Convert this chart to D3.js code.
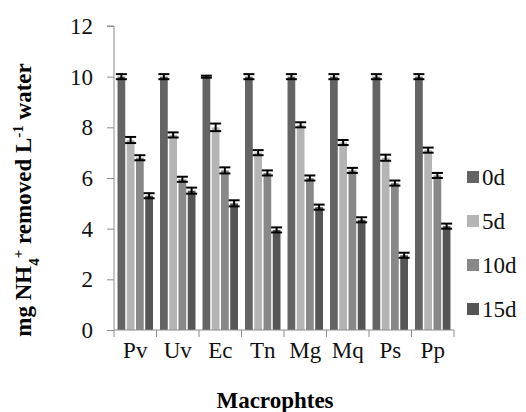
<!DOCTYPE html>
<meta charset="utf-8">
<style>
  body { margin: 0; background: #fff; }
  text { font-family: "Liberation Serif", "Times New Roman", serif; }
</style>
<body>
<script src="https://cdn.jsdelivr.net/npm/d3@7"></script>
<script>

// categories and the four sampling days
var macrophytes = ["Pv", "Uv", "Ec", "Tn", "Mg", "Mq", "Ps", "Pp"];
var days = ["0d", "5d", "10d", "15d"];

// mg NH4+ removed per litre, one array per day
var removed0d  = [10.0, 10.0, 10.0, 10.0, 10.0, 10.0, 10.0, 10.0];
var removed5d  = [7.5, 7.7, 8.0, 7.0, 8.1, 7.4, 6.8, 7.1];
var removed10d = [6.8, 5.95, 6.3, 6.2, 6.0, 6.3, 5.8, 6.1];
var removed15d = [5.3, 5.5, 5.0, 3.95, 4.85, 4.35, 2.95, 4.1];

// error bars (+/-)
var err0d  = [0.1, 0.1, 0.04, 0.1, 0.1, 0.1, 0.1, 0.1];
var err5d  = [0.12, 0.1, 0.15, 0.1, 0.1, 0.1, 0.12, 0.1];
var err10d = [0.1, 0.1, 0.12, 0.1, 0.1, 0.1, 0.1, 0.1];
var err15d = [0.1, 0.12, 0.12, 0.1, 0.1, 0.1, 0.1, 0.1];

var yTicks = [0, 2, 4, 6, 8, 10, 12];

var values = [removed0d, removed5d, removed10d, removed15d];
var errors = [err0d, err5d, err10d, err15d];
var colors = ["#646464", "#b4b4b4", "#888888", "#555555"];

var W = 526, H = 412;
var plotLeft = 114, plotRight = 454, plotTop = 26, plotBottom = 330;

var svg = d3.select("body").append("svg")
    .attr("width", W)
    .attr("height", H);

var x0 = d3.scaleBand()
    .domain(macrophytes)
    .range([plotLeft, plotRight])
    .paddingInner(0.13)
    .paddingOuter(0.065);

var x1 = d3.scaleBand()
    .domain(days)
    .range([0, x0.bandwidth()]);

var y = d3.scaleLinear()
    .domain([0, 12])
    .range([plotBottom, plotTop]);

// flatten into records
var rows = [];
macrophytes.forEach(function(m, i) {
  days.forEach(function(d, j) {
    rows.push({cat: m, day: d, v: values[j][i], e: errors[j][i], c: colors[j]});
  });
});

// y axis
var yAxis = svg.append("g")
    .attr("transform", "translate(" + plotLeft + ",0)")
    .call(d3.axisLeft(y).tickValues(yTicks).tickSize(7).tickPadding(14).tickFormat(d3.format("d")));
yAxis.attr("font-family", null);
yAxis.select(".domain").attr("stroke", "#8c8c8c").attr("d", "M-7," + y(12) + "H0V" + y(0));
yAxis.selectAll(".tick line").attr("stroke", "#8c8c8c");
yAxis.selectAll(".tick text").style("font-size", "23px").attr("fill", "#111");

// bars
svg.selectAll(".bar")
    .data(rows)
  .enter().append("rect")
    .attr("class", "bar")
    .attr("x", function(d) { return x0(d.cat) + x1(d.day) + 0.75; })
    .attr("width", x1.bandwidth() - 1.5)
    .attr("y", function(d) { return y(d.v); })
    .attr("height", function(d) { return y(0) - y(d.v); })
    .attr("fill", function(d) { return d.c; });

// error bars
var eb = svg.selectAll(".err")
    .data(rows)
  .enter().append("g")
    .attr("class", "err")
    .attr("stroke", "#000")
    .attr("stroke-width", 2);

function cx(d) { return x0(d.cat) + x1(d.day) + x1.bandwidth() / 2; }

eb.append("line")
    .attr("x1", cx)
    .attr("x2", cx)
    .attr("y1", function(d) { return y(d.v + d.e); })
    .attr("y2", function(d) { return y(d.v - d.e); });
[1, -1].forEach(function(s) {
  eb.append("line")
      .attr("x1", function(d) { return cx(d) - 5.5; })
      .attr("x2", function(d) { return cx(d) + 5.5; })
      .attr("y1", function(d) { return y(d.v + s * d.e); })
      .attr("y2", function(d) { return y(d.v + s * d.e); });
});

// x axis
var xAxis = svg.append("g")
    .attr("transform", "translate(0," + plotBottom + ")")
    .call(d3.axisBottom(x0).tickSize(0).tickPadding(12));
xAxis.attr("font-family", null);
xAxis.select(".domain").attr("stroke", "#8c8c8c").attr("d", "M" + plotLeft + ",0H" + plotRight);
xAxis.selectAll(".tick text").style("font-size", "23px").attr("fill", "#111");
// boundary ticks between categories
var bounds = macrophytes.map(function(m) { return x0(m) - x0.step() * x0.paddingInner() / 2; });
bounds.push(plotRight);
xAxis.selectAll(".bound")
    .data(bounds)
  .enter().append("line")
    .attr("x1", function(d) { return d; })
    .attr("x2", function(d) { return d; })
    .attr("y1", 0)
    .attr("y2", 7)
    .attr("stroke", "#8c8c8c");

// axis titles
svg.append("text")
    .attr("transform", "translate(31," + 200 + ") rotate(-90)")
    .attr("text-anchor", "middle")
    .style("font-size", "23px")
    .style("font-weight", "bold")
    .html('mg NH<tspan baseline-shift="sub" font-size="15px">4</tspan><tspan baseline-shift="super" font-size="15px">+</tspan> removed L<tspan baseline-shift="super" font-size="15px">-1</tspan> water');

svg.append("text")
    .attr("x", 275)
    .attr("y", 408)
    .attr("text-anchor", "middle")
    .style("font-size", "23px")
    .style("font-weight", "bold")
    .text("Macrophtes");

// legend
var legend = svg.selectAll(".legend")
    .data(days)
  .enter().append("g")
    .attr("class", "legend")
    .attr("transform", function(d, i) { return "translate(467," + (177 + i * 44) + ")"; });
legend.append("rect")
    .attr("x", 0)
    .attr("y", -6)
    .attr("width", 12)
    .attr("height", 12)
    .attr("fill", function(d, i) { return colors[i]; });
legend.append("text")
    .attr("x", 15)
    .attr("y", 8)
    .style("font-size", "23px")
    .attr("fill", "#111")
    .text(function(d) { return d; });

</script>
</body>
